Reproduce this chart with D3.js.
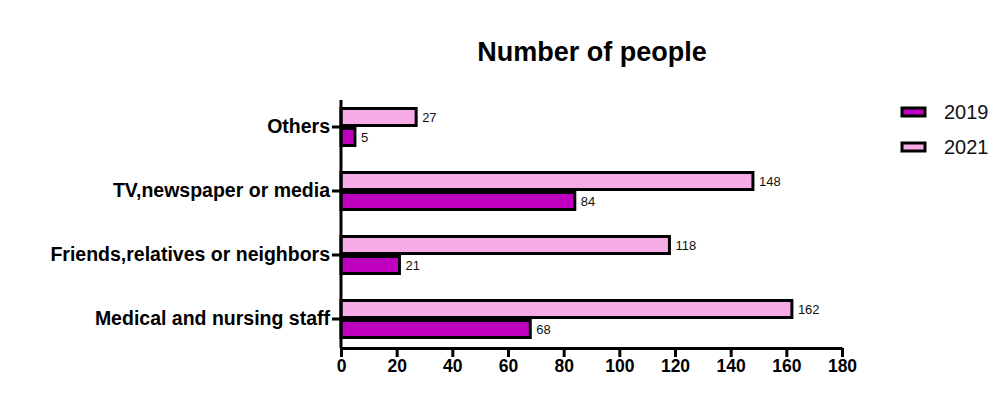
<!DOCTYPE html>
<html>
<head>
<meta charset="utf-8">
<script src="https://cdn.jsdelivr.net/npm/d3@7"></script>
<style>
  body { margin: 0; background: #fff; }
  svg { font-family: "Liberation Sans", Arial, sans-serif; }
</style>
</head>
<body>
<div id="chart"></div>
<script>
// categories from bottom to top as in the picture
var categories = ['Medical and nursing staff', 'Friends,relatives or neighbors', 'TV,newspaper or media', 'Others'];
var series = ['2019', '2021'];
var values2019 = [68, 21, 84, 5];
var values2021 = [162, 118, 148, 27];
var xTicks = [0, 20, 40, 60, 80, 100, 120, 140, 160, 180];

var colors = { '2019': '#c000c0', '2021': '#f6abe6' };

var width = 999, height = 398;

var svg = d3.select('#chart').append('svg')
  .attr('width', width)
  .attr('height', height);

var x = d3.scaleLinear().domain([0, 180]).range([341, 842]);

// band per category, bottom to top
var y = d3.scaleBand()
  .domain(categories)
  .range([351, 95]);

// 2021 sits above the tick, 2019 below
var inner = d3.scaleBand().domain(['2021', '2019']).range([-20, 20]);

var rows = categories.map(function (c, i) {
  return { cat: c, '2019': values2019[i], '2021': values2021[i] };
});

var groups = svg.append('g')
  .selectAll('g')
  .data(rows)
  .join('g')
  .attr('transform', function (d) { return 'translate(0,' + (y(d.cat) + y.bandwidth() / 2) + ')'; });

groups.selectAll('rect')
  .data(function (d) { return series.map(function (s) { return { s: s, v: d[s] }; }); })
  .join('rect')
  .attr('x', x(0))
  .attr('y', function (d) { return inner(d.s) + 1.5; })
  .attr('width', function (d) { return x(d.v) - x(0); })
  .attr('height', inner.bandwidth() - 3)
  .attr('fill', function (d) { return colors[d.s]; })
  .attr('stroke', '#000')
  .attr('stroke-width', 3);

groups.selectAll('text')
  .data(function (d) { return series.map(function (s) { return { s: s, v: d[s] }; }); })
  .join('text')
  .attr('x', function (d) { return x(d.v) + 6; })
  .attr('y', function (d) { return inner(d.s) + inner.bandwidth() / 2; })
  .attr('dy', '0.35em')
  .attr('font-size', '13px')
  .attr('fill', '#111')
  .text(function (d) { return d.v; });

// y axis
var yAxis = svg.append('g')
  .attr('transform', 'translate(341,0)')
  .call(d3.axisLeft(y).tickSize(9).tickPadding(2).tickSizeOuter(0));
yAxis.select('.domain').attr('d', 'M0,100V348');
yAxis.selectAll('line').attr('stroke-width', 3);
yAxis.selectAll('path').attr('stroke-width', 3);
yAxis.selectAll('text')
  .attr('font-size', '19.5px')
  .attr('font-weight', 'bold')
  .attr('fill', '#000')
  .attr('font-family', '"Liberation Sans", Arial, sans-serif');

// x axis
var xAxis = svg.append('g')
  .attr('transform', 'translate(0,348)')
  .call(d3.axisBottom(x).tickValues(xTicks).tickSize(9).tickPadding(3).tickSizeOuter(0));
xAxis.selectAll('line').attr('stroke-width', 3);
xAxis.selectAll('path').attr('stroke-width', 3);
xAxis.selectAll('text')
  .attr('font-size', '17.5px')
  .attr('font-weight', 'bold')
  .attr('fill', '#000')
  .attr('font-family', '"Liberation Sans", Arial, sans-serif');

// title
svg.append('text')
  .attr('x', 592)
  .attr('y', 61)
  .attr('text-anchor', 'middle')
  .attr('font-size', '27px')
  .attr('font-weight', 'bold')
  .text('Number of people');

// legend
var legend = svg.append('g')
  .selectAll('g')
  .data(series)
  .join('g')
  .attr('transform', function (d, i) { return 'translate(902,' + (112 + i * 35) + ')'; });

legend.append('rect')
  .attr('x', 0)
  .attr('y', -4)
  .attr('width', 23)
  .attr('height', 8)
  .attr('fill', function (d) { return colors[d]; })
  .attr('stroke', '#000')
  .attr('stroke-width', 3);

legend.append('text')
  .attr('x', 42)
  .attr('y', 0)
  .attr('dy', '0.35em')
  .attr('font-size', '20px')
  .attr('fill', '#111')
  .text(function (d) { return d; });
</script>
</body>
</html>
